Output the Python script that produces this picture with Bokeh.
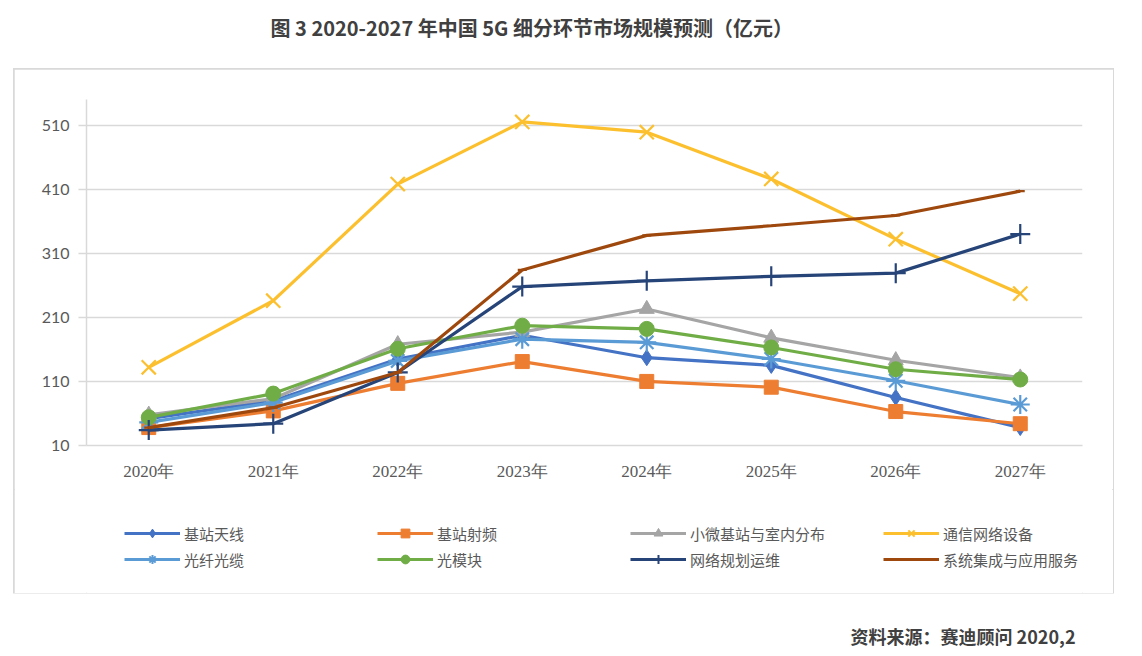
from bokeh.plotting import figure
from bokeh.layouts import column
from bokeh.models import (ColumnDataSource, FactorRange, Range1d, FixedTicker, Legend,
                          LegendItem, Label)
from bokeh.embed import file_html
from bokeh.resources import INLINE

# ---- data ----
years = ["2020年", "2021年", "2022年", "2023年", "2024年", "2025年", "2026年", "2027年"]
antenna = [52, 80, 145, 182, 147, 135, 85, 38]          # 基站天线
rf = [38, 64, 107, 141, 110, 101, 63, 44]               # 基站射频
small_cell = [58, 83, 168, 187, 223, 178, 143, 116]     # 小微基站与室内分布
network_eq = [132, 236, 418, 515, 499, 426, 332, 247]   # 通信网络设备
fiber = [46, 77, 142, 176, 171, 145, 111, 74]           # 光纤光缆
optical_mod = [54, 91, 161, 197, 192, 163, 129, 113]    # 光模块
planning = [34, 44, 124, 258, 267, 274, 279, 340]       # 网络规划运维
integration = [38, 69, 124, 284, 338, 353, 369, 407]    # 系统集成与应用服务
y_ticks = [10, 110, 210, 310, 410, 510]

series_names = ["基站天线", "基站射频", "小微基站与室内分布", "通信网络设备",
                "光纤光缆", "光模块", "网络规划运维", "系统集成与应用服务"]
series_values = [antenna, rf, small_cell, network_eq, fiber, optical_mod, planning, integration]
colors = ["#4472C4", "#ED7D31", "#A5A5A5", "#FCC02F", "#5B9BD5", "#70AD47", "#264478", "#9E480E"]
markers = ["diamond", "square", "triangle", "x", "asterisk", "circle", "cross", "dash"]
msizes = [16, 14, 15, 20, 19, 15, 20, 9]

title_text = "图 3 2020-2027 年中国 5G 细分环节市场规模预测（亿元）"
source_text = "资料来源：赛迪顾问 2020,2"

src = ColumnDataSource(dict(year=years, **{f"s{i}": v for i, v in enumerate(series_values)}))


def bare_fig(width, height, x_range=None, y_range=None):
    f = figure(width=width, height=height,
               x_range=x_range if x_range is not None else Range1d(0, 1),
               y_range=y_range if y_range is not None else Range1d(0, 1),
               min_border=0, x_axis_location=None, y_axis_location=None,
               output_backend="svg", toolbar_location=None)
    f.outline_line_color = None
    f.xgrid.grid_line_color = None
    f.ygrid.grid_line_color = None
    return f


# ---- title ----
tf = bare_fig(1126, 69)
tf.add_layout(Label(x=270, y=42, x_units="screen", y_units="screen", text=title_text,
                    text_font="Noto Sans CJK SC", text_font_style="bold",
                    text_font_size="20px", text_color="#404040",
                    text_align="left", text_baseline="middle"))

# ---- main chart ----
p = figure(x_range=FactorRange(*years, range_padding=0), y_range=Range1d(10, 550),
           width=1099, height=420, min_border_left=72, min_border_right=31,
           min_border_top=30, min_border_bottom=44,
           output_backend="svg", toolbar_location=None)
p.outline_line_color = None
p.background_fill_color = "white"
p.border_fill_color = "white"

p.xgrid.grid_line_color = None
p.ygrid.grid_line_color = "#D9D9D9"
p.ygrid.grid_line_width = 1.5

p.yaxis.ticker = FixedTicker(ticks=y_ticks)
p.yaxis.axis_line_color = "#D9D9D9"
p.yaxis.axis_line_width = 1.5
p.yaxis.major_tick_line_color = "#D9D9D9"
p.yaxis.major_tick_line_width = 1.5
p.yaxis.major_tick_out = 8
p.yaxis.major_tick_in = 0
p.yaxis.minor_tick_line_color = None
p.yaxis.major_label_standoff = 9
p.yaxis.major_label_text_font = "Lato"
p.yaxis.major_label_text_font_size = "16px"
p.yaxis.major_label_text_color = "#595959"

p.xaxis.axis_line_color = "#D9D9D9"
p.xaxis.axis_line_width = 1.5
p.xaxis.major_tick_line_color = None
p.xaxis.major_tick_out = 0
p.xaxis.major_tick_in = 0
p.xaxis.major_label_standoff = 16
p.xaxis.major_label_text_font = "Liberation Serif"
p.xaxis.major_label_text_font_size = "17px"
p.xaxis.major_label_text_color = "#595959"

# ---- legend strip (inside the chart border); its own copies of the series lie out of view ----
lf = bare_fig(1099, 104, x_range=FactorRange(*years, range_padding=0),
              y_range=Range1d(-2, -1))

items = []
for i, name in enumerate(series_names):
    p.line("year", f"s{i}", source=src, line_color=colors[i], line_width=3.2)
    p.scatter("year", f"s{i}", source=src, marker=markers[i], size=msizes[i],
              fill_color=colors[i], line_color=colors[i],
              line_width=2.2 if markers[i] in ("x", "asterisk", "cross", "dash") else 1)
    lr = lf.line("year", f"s{i}", source=src, line_color=colors[i], line_width=3.2)
    sr = lf.scatter("year", f"s{i}", source=src, marker=markers[i], size=msizes[i],
                    fill_color=colors[i], line_color=colors[i],
                    line_width=2 if markers[i] in ("x", "asterisk", "cross", "dash") else 1)
    items.append(LegendItem(label=name, renderers=[lr, sr]))

lg = Legend(items=items, location=(38, 23), orientation="horizontal", ncols=4,
            glyph_width=56, glyph_height=22, label_height=22, label_width=189,
            spacing=4, label_standoff=4, padding=0, margin=0,
            border_line_color=None, background_fill_alpha=0,
            label_text_font="Noto Sans CJK SC", label_text_font_size="15px",
            label_text_color="#595959")
lf.add_layout(lg, "center")

box = column(p, lf, spacing=0)
box.margin = (0, 0, 0, 14)
box.styles = {"outline": "2px solid #D9D9D9", "outline-offset": "-1px"}

# ---- source ----
sf = bare_fig(1126, 57)
sf.add_layout(Label(x=850, y=15, x_units="screen", y_units="screen", text=source_text,
                    text_font="Noto Sans CJK SC", text_font_style="bold",
                    text_font_size="18px", text_color="#404040",
                    text_align="left", text_baseline="middle"))

layout = column(tf, box, sf, spacing=0)
open("out.html", "w").write(file_html(layout, INLINE))
